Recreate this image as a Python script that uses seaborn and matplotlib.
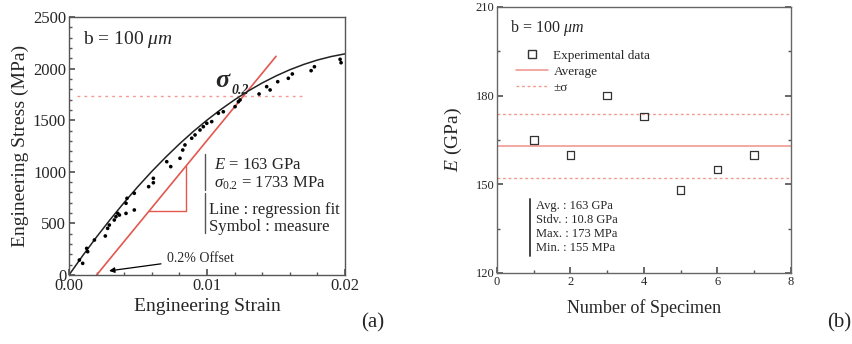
import matplotlib
matplotlib.use("Agg")
import matplotlib.pyplot as plt
from matplotlib.lines import Line2D
from matplotlib.ticker import MultipleLocator
import seaborn as sns

# panel (a): regression fit of the stress-strain curve
fit_strain = [0.0, 0.001, 0.002, 0.003, 0.004, 0.005, 0.006, 0.007, 0.008, 0.009, 0.010,
              0.011, 0.012, 0.013, 0.014, 0.015, 0.016, 0.017, 0.018, 0.019, 0.020]
fit_stress = [0, 189, 369, 540, 703, 858, 1004, 1141, 1270, 1390, 1501,
              1604, 1698, 1784, 1861, 1929, 1989, 2040, 2083, 2117, 2143]

# panel (a): measured points
meas_strain = [0.00075, 0.00099, 0.00128, 0.00135, 0.00184, 0.00263, 0.0028, 0.00292,
               0.00328, 0.0034, 0.00353, 0.00365, 0.00413, 0.00473, 0.00413, 0.0042,
               0.00473, 0.00577, 0.00611, 0.00611, 0.00708, 0.00737, 0.00804, 0.00824,
               0.0084, 0.00889, 0.00913, 0.00949, 0.00973, 0.00998, 0.01034, 0.01082,
               0.01118, 0.01203, 0.01227, 0.01239, 0.01377, 0.01432, 0.01457, 0.01512,
               0.01589, 0.01618, 0.01754, 0.01778, 0.01964, 0.01971]
meas_stress = [145, 113, 258, 226, 339, 378, 452, 484, 533, 565, 597, 581, 597, 630,
               695, 743, 792, 856, 894, 937, 1098, 1050, 1131, 1211, 1260, 1325, 1357,
               1405, 1437, 1470, 1486, 1567, 1582, 1631, 1679, 1696, 1754, 1825, 1793,
               1873, 1906, 1948, 1980, 2018, 2090, 2057]

# 0.2 % offset line and slope triangle
offset_strain = [0.002, 0.0150]
offset_stress = [0, 2119]
tri_strain = [0.0058, 0.00848, 0.00848]
tri_stress = [619, 619, 1056]
yield_stress = 1733

# panel (b): modulus per specimen
specimen = [1, 2, 3, 4, 5, 6, 7]
modulus = [165, 160, 180, 173, 148, 155, 160]
mod_avg = 163
mod_std = 10.8
stats = ["Avg. : 163 GPa", "Stdv. : 10.8 GPa", "Max. : 173 MPa", "Min. : 155 MPa"]

sns.set_theme(style="ticks")
plt.rcParams["font.family"] = ["Liberation Serif", "DejaVu Serif"]
plt.rcParams["mathtext.fontset"] = "custom"
plt.rcParams["mathtext.rm"] = "Liberation Serif"
plt.rcParams["mathtext.it"] = "Liberation Serif:italic"
plt.rcParams["mathtext.bf"] = "Liberation Serif:bold:italic"
plt.rcParams["xtick.direction"] = "in"
plt.rcParams["ytick.direction"] = "in"

RED = "#e4574f"
PINK = "#f29a92"
SPINE = "#555555"

fig = plt.figure(figsize=(8.52, 3.44), dpi=100)
ax1 = fig.add_axes([0.081, 0.2006, 0.324, 0.75])
ax2 = fig.add_axes([0.5833, 0.2064, 0.345, 0.7733])

# ---- panel (a)
ax1.plot(offset_strain, offset_stress, color=RED, lw=1.2)
ax1.plot(tri_strain, tri_stress, color=RED, lw=1.0)
ax1.hlines(yield_stress, 0.00056, 0.0169, colors=PINK, linestyles=(0, (2, 3)), lw=1.0)
sns.lineplot(x=fit_strain, y=fit_stress, ax=ax1, color="#222222", lw=1.1, sort=True)
sns.scatterplot(x=meas_strain, y=meas_stress, ax=ax1, color="black", s=7,
                edgecolor="none", zorder=5)

ax1.set_xlim(0, 0.02)
ax1.set_ylim(0, 2500)
ax1.set_xticks([0.0, 0.01, 0.02])
ax1.set_xticklabels(["0.00", "0.01", "0.02"])
ax1.set_yticks([0, 500, 1000, 1500, 2000, 2500])
ax1.xaxis.set_minor_locator(MultipleLocator(0.002))
ax1.yaxis.set_minor_locator(MultipleLocator(100))
ax1.tick_params(which="major", labelsize=12, length=4, color=SPINE, pad=2)
ax1.tick_params(which="minor", length=2, color=SPINE)
ax1.set_xlabel("Engineering Strain", fontsize=14, labelpad=3)
ax1.set_ylabel("Engineering Stress (MPa)", fontsize=14, labelpad=3)
for s in ax1.spines.values():
    s.set_color(SPINE)
    s.set_linewidth(1.0)

ax1.text(0.001, 2280, r"b = 100 $\mu m$", fontsize=14, va="center")
ax1.text(0.0106, 1880, r"$\mathbf{\sigma}$", fontsize=19, va="center")
ax1.text(0.01175, 1790, "0.2", fontsize=10, fontweight="bold", fontstyle="italic",
         va="center")
ax1.text(0.01050, 1070, r"$E$ = 163 GPa", fontsize=12, va="center")
ax1.text(0.01050, 890, r"$\sigma_{\mathit{0.2}}$ = 1733 MPa", fontsize=12, va="center")
ax1.plot([0.00985, 0.00985], [820, 1170], color=SPINE, lw=1.0)
ax1.text(0.01015, 630, "Line : regression fit", fontsize=12, va="center")
ax1.text(0.01015, 465, "Symbol : measure", fontsize=12, va="center")
ax1.plot([0.00985, 0.00985], [410, 790], color=SPINE, lw=1.0)
ax1.annotate("0.2% Offset", xy=(0.0029, 40), xytext=(0.0071, 160), fontsize=10,
             va="center",
             arrowprops=dict(arrowstyle="-|>", color="black", lw=0.9,
                             shrinkA=2, shrinkB=0, mutation_scale=8))

# ---- panel (b)
ax2.axhline(mod_avg, color=PINK, lw=1.2)
ax2.axhline(mod_avg + mod_std, color=PINK, lw=1.0, ls=(0, (2, 2)))
ax2.axhline(mod_avg - mod_std, color=PINK, lw=1.0, ls=(0, (2, 2)))
sns.scatterplot(x=specimen, y=modulus, ax=ax2, marker="s", s=30,
                facecolor="none", edgecolor="#333333", linewidth=0.9, zorder=5)

ax2.set_xlim(0, 8)
ax2.set_ylim(120, 210)
ax2.set_xticks([0, 2, 4, 6, 8])
ax2.set_yticks([120, 150, 180, 210])
ax2.xaxis.set_minor_locator(MultipleLocator(1))
ax2.yaxis.set_minor_locator(MultipleLocator(15))
ax2.tick_params(which="both", right=True, color=SPINE)
ax2.tick_params(which="major", labelsize=9, length=4, pad=2)
ax2.tick_params(which="minor", length=2)
ax2.set_xlabel("Number of Specimen", fontsize=13, labelpad=8)
ax2.set_ylabel(r"$E$ (GPa)", fontsize=14, labelpad=8)
for s in ax2.spines.values():
    s.set_color("#666666")
    s.set_linewidth(1.0)

ax2.text(0.35, 203, r"b = 100 $\mu m$", fontsize=11.5, va="center")
handles = [
    Line2D([], [], marker="s", ls="none", markerfacecolor="none",
           markeredgecolor="#333333", markersize=5.5),
    Line2D([], [], color=PINK, lw=1.2),
    Line2D([], [], color=PINK, lw=1.0, ls=(0, (2, 2))),
]
ax2.legend(handles, ["Experimental data", "Average", "\u00b1\u03c3"],
           loc="upper left", bbox_to_anchor=(0.035, 0.875), frameon=False,
           fontsize=9.5, handlelength=2.4, handletextpad=0.4,
           labelspacing=0.3, borderpad=0.2)

for i, line in enumerate(stats):
    ax2.text(1.05, 142.7 - i * 4.74, line, fontsize=9, va="center")
ax2.plot([0.9, 0.9], [125.6, 144.9], color="#444444", lw=1.4)

fig.text(0.438, 0.062, "(a)", fontsize=15, ha="center", va="center")
fig.text(0.985, 0.062, "(b)", fontsize=15, ha="center", va="center")

fig.savefig("out.png", dpi=100, facecolor="white")
